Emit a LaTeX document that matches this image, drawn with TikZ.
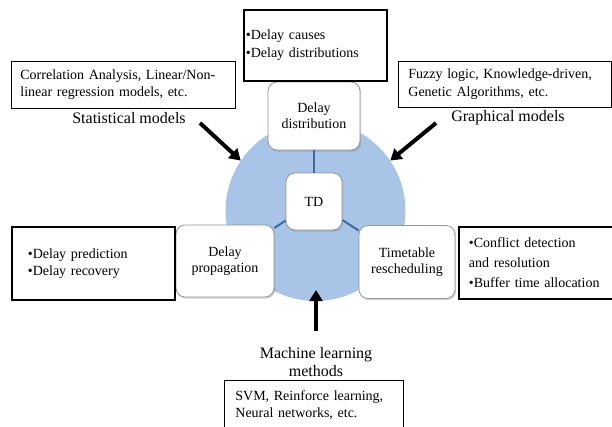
\documentclass[tikz,border=0pt]{standalone}
\usepackage{fontspec}
\setmainfont{Liberation Serif}
\usetikzlibrary{shadows,arrows.meta}
\definecolor{discblue}{RGB}{168,196,230}
\definecolor{linkblue}{RGB}{62,106,160}
\definecolor{roundedge}{RGB}{150,150,150}
\begin{document}
\begin{tikzpicture}[x=1pt,y=-1pt,
  infobox/.style={draw=black, line width=0.8pt, anchor=north west, align=left,
    font=\fontsize{14}{17.5}\selectfont, inner ysep=0pt},
  keybox/.style={infobox, line width=1.8pt},
  topic/.style={draw=roundedge, line width=0.8pt, fill=white, rounded corners=9pt,
    align=center, font=\fontsize{14}{16}\selectfont, inner sep=0pt,
    drop shadow={shadow xshift=1.2pt, shadow yshift=-1.6pt, opacity=0.35}},
  family/.style={align=center, font=\fontsize{16}{18.5}\selectfont, inner sep=0pt},
  link/.style={draw=linkblue, line width=2pt},
  bigarrow/.style={line width=4pt, -{Triangle[length=11pt,width=13pt]}}
]
\useasboundingbox (0,0) rectangle (612,426);

% central disc
\node[circle, fill=discblue, minimum size=180pt, inner sep=0pt] (circ) at (315.5,211) {};

% topic boxes on the disc
\node[topic, minimum width=92pt, minimum height=68pt] (dd) at (314,116) {Delay\\distribution};
\node[topic, minimum width=56pt, minimum height=57pt] (td) at (314,201.5) {TD};
\node[topic, minimum width=98pt, minimum height=72pt] (dp) at (225,261) {Delay\\propagation};
\node[topic, minimum width=96pt, minimum height=73pt] (tr) at (407,262) {Timetable\\rescheduling};

\draw[link] (dd) -- (td);
\draw[link] (td) -- (dp);
\draw[link] (td) -- (tr);

% descriptions of each topic
\node[keybox, inner xsep=2pt, text width=139pt, minimum height=71pt] (causes) at (243,9)
  {•Delay causes\\•Delay distributions};
\node[keybox, inner xsep=16pt, text width=131pt, minimum height=73pt] (predict) at (11,226)
  {•Delay prediction\\•Delay recovery};
\node[keybox, inner xsep=10pt, text width=135pt, minimum height=72pt,
  font=\fontsize{14}{20}\selectfont] (conflict) at (458,226)
  {•Conflict detection\\and resolution\\•Buffer time allocation};

% method families
\node[infobox, inner xsep=9pt, text width=206pt, minimum height=47pt] (statbox) at (11,61)
  {Correlation Analysis, Linear/Non-\\linear regression models, etc.};
\node[infobox, inner xsep=10pt, text width=193pt, minimum height=46pt] (graphbox) at (398,61)
  {Fuzzy logic, Knowledge-driven,\\Genetic Algorithms, etc.};
\node[infobox, inner xsep=11pt, text width=157pt, minimum height=49pt] (svmbox) at (224,380)
  {SVM, Reinforce learning,\\Neural networks, etc.};

\node[family] (statlab) at (129,118) {Statistical models};
\node[family] (graphlab) at (508,118) {Graphical models};
\node[family] (mllab) at (316,362) {Machine learning\\methods};

\coordinate (statTail) at (200,123);
\coordinate (graphTail) at (436,123);
\coordinate (mlTail) at (316,331);
\coordinate (mlTip) at (316,290);
\draw[bigarrow] (statTail) -- (circ.146);
\draw[bigarrow] (graphTail) -- (circ.34);
\draw[bigarrow] (mlTail) -- (mlTip);
\end{tikzpicture}
\end{document}
